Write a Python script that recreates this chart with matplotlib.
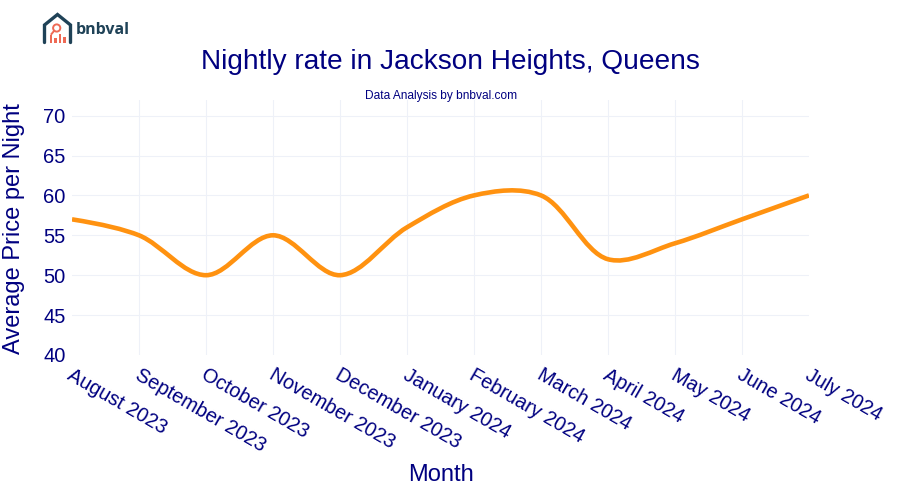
import matplotlib
matplotlib.use("Agg")
import matplotlib.pyplot as plt
import numpy as np
from matplotlib.path import Path
from matplotlib.patches import PathPatch, Rectangle, Circle
from matplotlib.transforms import ScaledTranslation

months = ["August 2023", "September 2023", "October 2023", "November 2023",
          "December 2023", "January 2024", "February 2024", "March 2024",
          "April 2024", "May 2024", "June 2024", "July 2024"]
rate = [57, 55, 50, 55, 50, 56, 60, 60, 52, 54, 57, 60]
y_ticks = [40, 45, 50, 55, 60, 65, 70]

navy = "#000080"
orange = "#ff9210"
grid = "#eef1f8"
W, H = 900, 500

plt.rcParams["font.family"] = ["Liberation Sans", "DejaVu Sans"]

fig = plt.figure(figsize=(9, 5), dpi=100)
# plot area in pixels: x 72-809, y 100-355
ax = fig.add_axes([72 / W, 1 - 355 / H, (809 - 72) / W, 255 / H])
x = np.arange(len(months))
ax.set_xlim(0, len(months) - 1)
ax.set_ylim(40, 40 + 255 / 7.98)


def tangent(a, b, c):
    # same tangent rule as a plotly spline, in pixel space
    d1 = a - b
    d2 = c - b
    d1a = np.hypot(*d1) ** 0.5
    d2a = np.hypot(*d2) ** 0.5
    num = d2a * d2a * d1 - d1a * d1a * d2
    return b + num / (3 * d2a * (d1a + d2a)), b - num / (3 * d1a * (d1a + d2a))


def spline_path(xs, ys):
    pts = ax.transData.transform(np.column_stack([xs, ys]))
    tans = [tangent(pts[i - 1], pts[i], pts[i + 1]) for i in range(1, len(pts) - 1)]
    verts = [pts[0], tans[0][0], pts[1]]
    codes = [Path.MOVETO, Path.CURVE3, Path.CURVE3]
    for i in range(2, len(pts) - 1):
        verts += [tans[i - 2][1], tans[i - 1][0], pts[i]]
        codes += [Path.CURVE4] * 3
    verts += [tans[-1][1], pts[-1]]
    codes += [Path.CURVE3, Path.CURVE3]
    return Path(ax.transData.inverted().transform(np.array(verts)), codes)


ax.add_patch(PathPatch(spline_path(x, rate), fill=False, ec=orange, lw=3.3,
                       capstyle="butt", joinstyle="round", zorder=3))

ax.set_xticks(x)
ax.set_xticklabels(months, rotation=-30, ha="left", va="top", rotation_mode="anchor",
                   fontsize=14.3, color=navy)
ax.set_yticks(y_ticks)
ax.set_yticklabels(y_ticks, fontsize=14.5, color=navy)
ax.tick_params(axis="both", length=0)
ax.tick_params(axis="x", pad=7.5)
ax.tick_params(axis="y", pad=4.5)
# shift month labels after tick_params, which resets their transform
nudge = ScaledTranslation(2 / 100, 0, fig.dpi_scale_trans)
for lab in ax.get_xticklabels():
    lab.set_transform(lab.get_transform() + nudge)
ax.grid(True, color=grid, lw=0.8)
ax.set_axisbelow(True)
# no vertical gridline at either end, nor a horizontal one at the base
ax.xaxis.get_gridlines()[0].set_visible(False)
ax.xaxis.get_gridlines()[-1].set_visible(False)
ax.yaxis.get_gridlines()[0].set_visible(False)
for s in ax.spines.values():
    s.set_visible(False)

fig.text(450 / W, 1 - 62 / H, "Nightly rate in Jackson Heights, Queens", color=navy,
         fontsize=20.15, ha="center", va="center")
fig.text(441 / W, 1 - 96 / H, "Data Analysis by bnbval.com", color=navy,
         fontsize=8.6, ha="center", va="center")
fig.text(14.5 / W, 1 - 229 / H, "Average Price per Night", color=navy, fontsize=17,
         rotation=90, ha="center", va="center")
fig.text(441 / W, 1 - 475 / H, "Month", color=navy, fontsize=17, ha="center", va="center")

# logo, drawn in pixel coordinates
logo = fig.add_axes([0, 0, 1, 1], facecolor="none")
logo.set_xlim(0, W)
logo.set_ylim(H, 0)
logo.axis("off")
teal = "#1f4257"
coral = "#ee6a55"
logo.plot([44.5, 44.5, 57.5, 70.5, 70.5], [42.5, 25, 14.5, 25, 42.5], color=teal, lw=2.4,
          solid_joinstyle="miter", solid_capstyle="round")
for bx, by in [(49.5, 35), (54, 38), (58.5, 34), (63, 37)]:
    logo.add_patch(Rectangle((bx, by), 2.6, 43 - by, color=coral, lw=0))
logo.add_patch(Circle((56.7, 28), 3.6, fill=False, ec=coral, lw=1.4))
logo.plot([54, 51.5], [31, 34], color=coral, lw=1.4)
logo.text(75.5, 30.5, "bnbval", color=teal, fontsize=11.5, fontweight="bold",
          family="Open Sans", ha="left", va="center")

fig.savefig("out.png", dpi=100, facecolor="white")
